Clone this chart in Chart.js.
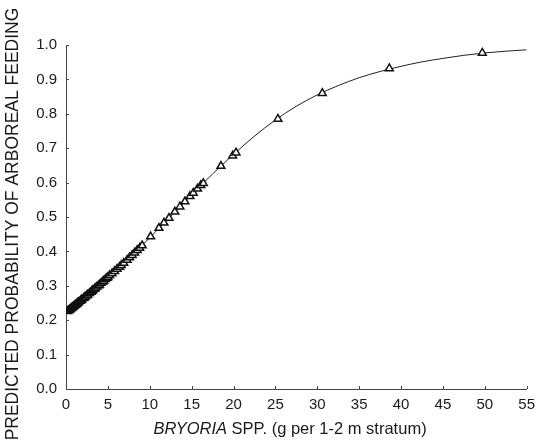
<!DOCTYPE html>
<html lang="en">
<head>
  <meta charset="UTF-8" />
  <title>Predicted probability of arboreal feeding</title>
  <script src="https://cdn.jsdelivr.net/npm/chart.js"></script>
  <style>
    body {
      margin: 0;
      background: #fff;
    }
    canvas {
      display: block;
    }
  </style>
</head>
<body>
  <canvas id="probChart" width="542" height="444"></canvas>

  <script>
  // observed points (triangles): Bryoria biomass vs predicted probability
  const obsX = [0.2, 0.3, 0.4, 0.5, 0.6, 0.7, 0.8, 0.9, 1.0, 1.1, 1.2, 1.3, 1.4, 1.5, 1.7, 1.8, 1.9, 2.1, 2.2, 2.3, 2.5, 2.6, 2.8, 3.0, 3.1, 3.2, 3.4, 3.5, 3.7,
    3.9, 4.0, 4.2, 4.4, 4.5, 4.7, 4.9, 5.0, 5.2, 5.5, 5.8, 6.1, 6.4, 6.6, 6.9, 7.3, 7.6, 7.9, 8.2, 8.5, 8.8, 9.1,
    10.1, 11.1, 11.7, 12.3, 13.0, 13.6, 14.2, 14.8, 15.2, 15.7, 16.1, 16.4, 18.5, 19.9, 20.3,
    25.3, 30.6, 38.6, 49.7];
  const obsY = [0.226, 0.228, 0.230, 0.232, 0.234, 0.236, 0.238, 0.240, 0.242, 0.244, 0.246, 0.248, 0.250, 0.252, 0.256, 0.258, 0.260, 0.264, 0.266, 0.268, 0.272, 0.274, 0.278, 0.282, 0.285, 0.287, 0.291, 0.293, 0.297,
    0.301, 0.303, 0.308, 0.312, 0.314, 0.319, 0.323, 0.325, 0.330, 0.336, 0.342, 0.349, 0.355, 0.360, 0.366, 0.375, 0.382, 0.389, 0.396, 0.403, 0.410, 0.417,
    0.443, 0.468, 0.483, 0.497, 0.515, 0.530, 0.545, 0.560, 0.570, 0.582, 0.592, 0.598, 0.648, 0.678, 0.687,
    0.785, 0.860, 0.932, 0.977];

  // fitted curve
  const curveX = [0, 2.5, 5, 7.5, 10, 12.5, 15, 17.5, 20, 22.5, 25, 27.5, 30, 32.5, 35, 37.5, 40, 42.5, 45, 47.5, 50, 52.5, 55];
  const curveY = [0.222, 0.272, 0.325, 0.380, 0.440, 0.502, 0.565, 0.625, 0.682, 0.735, 0.782, 0.822, 0.855, 0.882, 0.905, 0.923, 0.938, 0.951, 0.961, 0.970, 0.977, 0.982, 0.986];

  const xTitleItalic = 'BRYORIA';
  const xTitleRest = ' SPP. (g per 1-2 m stratum)';
  const yTitle = 'PREDICTED PROBABILITY OF ARBOREAL FEEDING';

  const FONT = '"Liberation Sans", Arial, sans-serif';
  const INK = '#1a1a1a';

  // small inward tick marks + axis titles
  const decorations = {
    id: 'decorations',
    afterDraw(chart) {
      const ctx = chart.ctx;
      const xs = chart.scales.x, ys = chart.scales.y;
      const area = chart.chartArea;
      ctx.save();
      ctx.strokeStyle = '#444';
      ctx.lineWidth = 1;
      ctx.beginPath();
      ys.ticks.forEach(t => {
        const py = Math.round(ys.getPixelForValue(t.value)) + 0.5;
        ctx.moveTo(area.left, py);
        ctx.lineTo(area.left + 3, py);
      });
      xs.ticks.forEach(t => {
        const px = Math.round(xs.getPixelForValue(t.value)) + 0.5;
        ctx.moveTo(px, area.bottom);
        ctx.lineTo(px, area.bottom - 3);
      });
      ctx.stroke();

      ctx.fillStyle = INK;
      ctx.textBaseline = 'middle';
      // x title with italic genus name
      ctx.font = 'italic 16.5px ' + FONT;
      const w1 = ctx.measureText(xTitleItalic).width;
      ctx.font = '16.5px ' + FONT;
      const w2 = ctx.measureText(xTitleRest).width;
      let sx = 290 - (w1 + w2) / 2;
      ctx.textAlign = 'left';
      ctx.font = 'italic 16.5px ' + FONT;
      ctx.fillText(xTitleItalic, sx, 429);
      ctx.font = '16.5px ' + FONT;
      ctx.fillText(xTitleRest, sx + w1, 429);

      // y title, rotated
      ctx.translate(13, 224);
      ctx.rotate(-Math.PI / 2);
      ctx.textAlign = 'center';
      ctx.font = '17.5px ' + FONT;
      ctx.fillText(yTitle, 0, 0);
      ctx.restore();
    }
  };

  const ctx = document.getElementById('probChart').getContext('2d');
  new Chart(ctx, {
    type: 'scatter',
    data: {
      datasets: [{
        label: 'Fitted',
        data: curveX.map((x, i) => ({ x: x, y: curveY[i] })),
        showLine: true,
        borderColor: '#222',
        borderWidth: 1,
        pointRadius: 0,
        cubicInterpolationMode: 'monotone',
        fill: false,
        order: 2
      }, {
        label: 'Observed',
        data: obsX.map((x, i) => ({ x: x, y: obsY[i] })),
        showLine: false,
        pointStyle: 'triangle',
        pointRadius: 4.5,
        borderColor: '#111',
        borderWidth: 1.5,
        backgroundColor: '#fff',
        order: 1
      }]
    },
    options: {
      responsive: false,
      animation: false,
      layout: { padding: { top: 45, right: 9, bottom: 0, left: 0 } },
      plugins: {
        legend: { display: false },
        tooltip: { enabled: false }
      },
      scales: {
        x: {
          type: 'linear',
          min: 0,
          max: 55,
          afterFit: s => { s.height = 55; },
          grid: { drawOnChartArea: false, drawTicks: false },
          border: { display: true, color: '#444', width: 1 },
          ticks: {
            stepSize: 5,
            padding: 7,
            color: INK,
            font: { family: FONT, size: 15 }
          }
        },
        y: {
          min: 0,
          max: 1,
          afterFit: s => { s.width = 66; },
          grid: { drawOnChartArea: false, drawTicks: false },
          border: { display: true, color: '#444', width: 1 },
          ticks: {
            stepSize: 0.1,
            padding: 9,
            color: INK,
            font: { family: FONT, size: 15 },
            callback: v => v.toFixed(1)
          }
        }
      }
    },
    plugins: [decorations]
  });
  </script>
</body>
</html>
